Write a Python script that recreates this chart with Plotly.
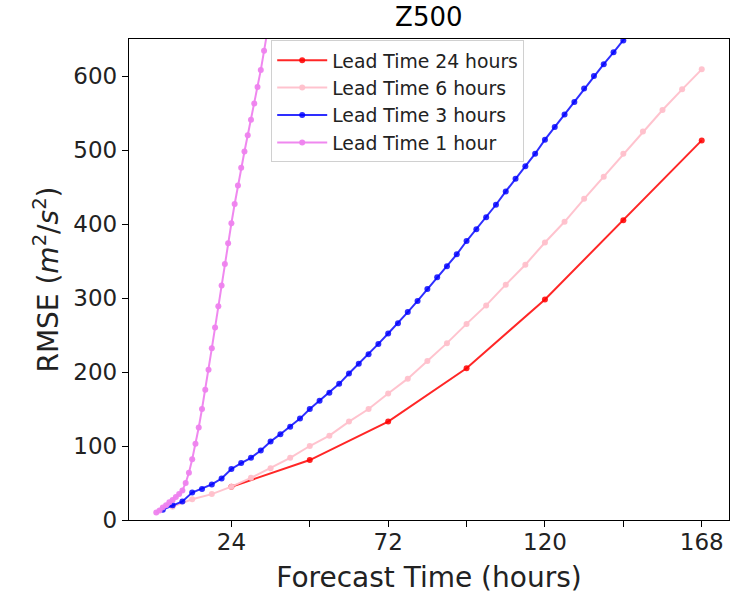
import plotly.graph_objects as go

# ---- data ----
hours_24 = [24, 48, 72, 96, 120, 144, 168]
rmse_24 = [45, 81, 133, 205, 298, 405, 513]

hours_6 = [6, 12, 18, 24, 30, 36, 42, 48, 54, 60, 66, 72, 78, 84, 90, 96, 102, 108,
           114, 120, 126, 132, 138, 144, 150, 156, 162, 168]
rmse_6 = [18, 28, 35, 45, 57, 70, 84, 100, 114, 133, 150, 171, 191, 215, 239, 265, 290, 318,
          345, 375, 403, 434, 464, 495, 525, 554, 582, 609]

hours_3 = [3, 6, 9, 12, 15, 18, 21, 24, 27, 30, 33, 36, 39, 42, 45, 48, 51, 54, 57, 60,
           63, 66, 69, 72, 75, 78, 81, 84, 87, 90, 93, 96, 99, 102, 105, 108, 111, 114,
           117, 120, 123, 126, 129, 132, 135, 138, 141, 144, 147]
rmse_3 = [14, 20, 25, 37, 42, 48, 56, 69, 77, 84, 94, 106, 116, 126, 137, 150, 161, 172,
          184, 198, 211, 224, 238, 252, 266, 281, 296, 312, 328, 343, 359, 377, 393, 409,
          426, 444, 461, 478, 495, 514, 531, 548, 565, 583, 600, 616, 632, 648, 665]

hours_1 = [1, 2, 3, 4, 5, 6, 7, 8, 9, 10, 11, 12, 13, 14, 15, 16, 17, 18, 19, 20, 21,
           22, 23, 24, 25, 26, 27, 28, 29, 30, 31, 32, 33, 34, 35]
rmse_1 = [10, 13, 17, 20, 24, 27, 31, 35, 40, 50, 64, 82, 103, 125, 150, 176, 203, 232,
          260, 289, 317, 346, 374, 401, 427, 452, 476, 498, 520, 541, 563, 585, 608, 634, 660]

series_names = ["Lead Time 24 hours", "Lead Time 6 hours", "Lead Time 3 hours", "Lead Time 1 hour"]
series_colors = ["rgba(255,0,0,0.85)", "rgba(255,192,203,0.95)", "rgba(0,0,255,0.82)", "rgba(238,130,238,0.95)"]

x_major_ticks = [24, 72, 120, 168]
x_minor_ticks = [48, 96, 144]
y_tickvals = [0, 100, 200, 300, 400, 500, 600]

FONT = "DejaVu Sans"

fig = go.Figure()
for xs, ys, name, col in zip([hours_24, hours_6, hours_3, hours_1],
                             [rmse_24, rmse_6, rmse_3, rmse_1],
                             series_names, series_colors):
    fig.add_trace(go.Scatter(
        x=xs, y=ys, name=name, mode="lines+markers",
        line=dict(color=col, width=2),
        marker=dict(color=col, size=6, symbol="circle"),
    ))

fig.update_layout(
    width=748, height=597,
    margin=dict(l=129, r=19, t=39, b=77, autoexpand=False),
    paper_bgcolor="white", plot_bgcolor="white",
    font=dict(family=FONT, color="black"),
    title=dict(text="Z500", x=0.5733, xanchor="center", y=1 - 17 / 597, yanchor="middle",
               yref="container", font=dict(size=26, family=FONT, color="black")),
    showlegend=True,
    legend=dict(x=0.237, y=0.997, xanchor="left", yanchor="top",
                bgcolor="rgba(255,255,255,0.85)", bordercolor="#d0d0d0", borderwidth=1,
                font=dict(size=18.8, family=FONT, color="#222222"),
                tracegroupgap=0, itemwidth=50),
)

fig.update_xaxes(
    range=[-7.35, 176.35], tickvals=x_major_ticks,
    ticks="outside", ticklen=6, tickwidth=1.3, tickcolor="black",
    minor=dict(tickvals=x_minor_ticks, ticks="outside", ticklen=6, tickwidth=1.3, tickcolor="black"),
    ticklabelstandoff=-5,
    showline=True, linecolor="black", linewidth=1.3, mirror=True,
    showgrid=False, zeroline=False,
    tickfont=dict(size=23, family=FONT, color="#222222"),
    title=dict(text="Forecast Time (hours)", font=dict(size=28, family=FONT, color="#222222"), standoff=13),
)
fig.update_yaxes(
    range=[0, 650], tickvals=y_tickvals,
    ticks="outside", ticklen=6, tickwidth=1.3, tickcolor="black",
    showline=True, linecolor="black", linewidth=1.3, mirror=True,
    showgrid=False, zeroline=False,
    tickfont=dict(size=23, family=FONT, color="#222222"),
    title=dict(text="RMSE (<i>m</i><sup>2</sup>/<i>s</i><sup>2</sup>)",
               font=dict(size=28, family=FONT, color="#222222"), standoff=6),
)

fig.write_html("out.html", config={"displayModeBar": False},
               post_script="document.body.style.margin='0';")
